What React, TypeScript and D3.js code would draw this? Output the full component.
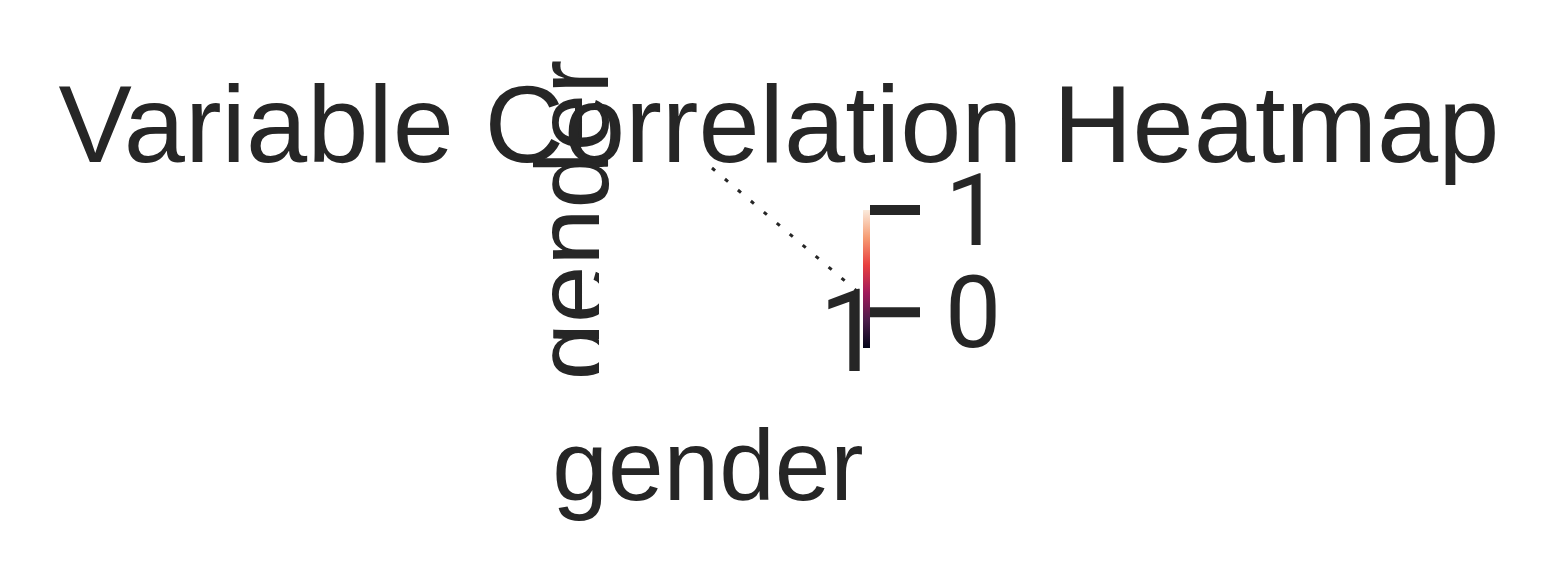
import * as d3 from 'd3';

// data
const variables = ['gender'];
const corrValues = [[1]];
const colorbarTicks = [1, 0];
const colorbarDomain = [-0.35, 1];
const titleText = 'Variable Correlation Heatmap';

// rocket colormap stops (dark -> light)
const rocketStops = ['#03051a', '#4c1d4b', '#a11a5b', '#e83f3f', '#f69c73', '#faebdd'];

const W = 1559;
const H = 582;
const FONT = '"Liberation Sans", Arial, Helvetica, sans-serif';
const DIGITS = 'Roboto, "Liberation Sans", Arial, sans-serif';
const INK = '#262626';

export default function App() {
    // heatmap cell geometry (collapsed axes)
    const xScale = d3.scaleBand<string>().domain(variables).range([594, 822]);
    const yScale = d3.scaleBand<string>().domain(variables).range([150, 290]);

    const rocket = d3.scaleLinear<string>()
        .domain(d3.range(rocketStops.length).map(i => i / (rocketStops.length - 1)))
        .range(rocketStops)
        .interpolate(d3.interpolateRgb);

    // colorbar
    const cbX = 863;
    const cbW = 7;
    const cbScale = d3.scaleLinear().domain(colorbarDomain).range([348, 210]);
    const stops = d3.range(0, 1.0001, 0.05);

    const xCenter = (xScale(variables[0]) ?? 0) + xScale.bandwidth() / 2;
    const yCenter = (yScale(variables[0]) ?? 0) + yScale.bandwidth() / 2;

    return (
        <svg width={W} height={H} style={{ position: 'absolute', left: 0, top: 0, background: '#fff' }}>
            <defs>
                <linearGradient id="cb" x1="0" y1="1" x2="0" y2="0">
                    {stops.map(s => (
                        <stop key={s} offset={`${s * 100}%`} stopColor={rocket(s)} />
                    ))}
                </linearGradient>
            </defs>

            {/* y tick label */}
            <text
                transform={`translate(608,${yCenter}) rotate(-90)`}
                textAnchor="middle"
                fontFamily={FONT}
                fontSize={103}
                fill={INK}
            >
                {variables[0]}
            </text>

            {/* cell (value 1 -> near white) covering part of the label */}
            {variables.map((row, i) =>
                variables.map((col, j) => (
                    <rect
                        key={`${row}-${col}`}
                        x={(xScale(col) ?? 0) + 5}
                        y={(yScale(row) ?? 0) + 60}
                        width={xScale.bandwidth() + 35}
                        height={yScale.bandwidth() + 40}
                        fill={corrValues[i][j] >= 1 ? '#ffffff' : rocket(corrValues[i][j])}
                    />
                ))
            )}

            {/* faint diagonal fragments */}
            <line x1={712} y1={168} x2={858} y2={292} stroke={INK} strokeWidth={3} strokeDasharray="4 13" />

            {/* title */}
            <text x={779} y={162} textAnchor="middle" fontFamily={FONT} fontSize={110} fill={INK}>
                {titleText}
            </text>

            {/* annotation */}
            {corrValues.map((r, i) =>
                r.map((v, j) => (
                    <text
                        key={`a${i}${j}`}
                        x={851}
                        y={371}
                        textAnchor="middle"
                        fontFamily={DIGITS}
                        fontSize={115}
                        fill={INK}
                    >
                        {d3.format('d')(v)}
                    </text>
                ))
            )}

            {/* x tick label */}
            <text x={xCenter} y={500} textAnchor="middle" fontFamily={FONT} fontSize={100} fill={INK}>
                {variables[0]}
            </text>

            {/* colorbar */}
            <rect x={cbX} y={cbScale(colorbarDomain[1])} width={cbW}
                height={cbScale(colorbarDomain[0]) - cbScale(colorbarDomain[1])} fill="url(#cb)" />
            {colorbarTicks.map(t => (
                <g key={t}>
                    <line x1={cbX + cbW} x2={920} y1={cbScale(t)} y2={cbScale(t)} stroke={INK} strokeWidth={10} />
                    <text x={945} y={cbScale(t) + 35} fontFamily={DIGITS} fontSize={100} fill={INK}>
                        {t}
                    </text>
                </g>
            ))}
        </svg>
    );
}
